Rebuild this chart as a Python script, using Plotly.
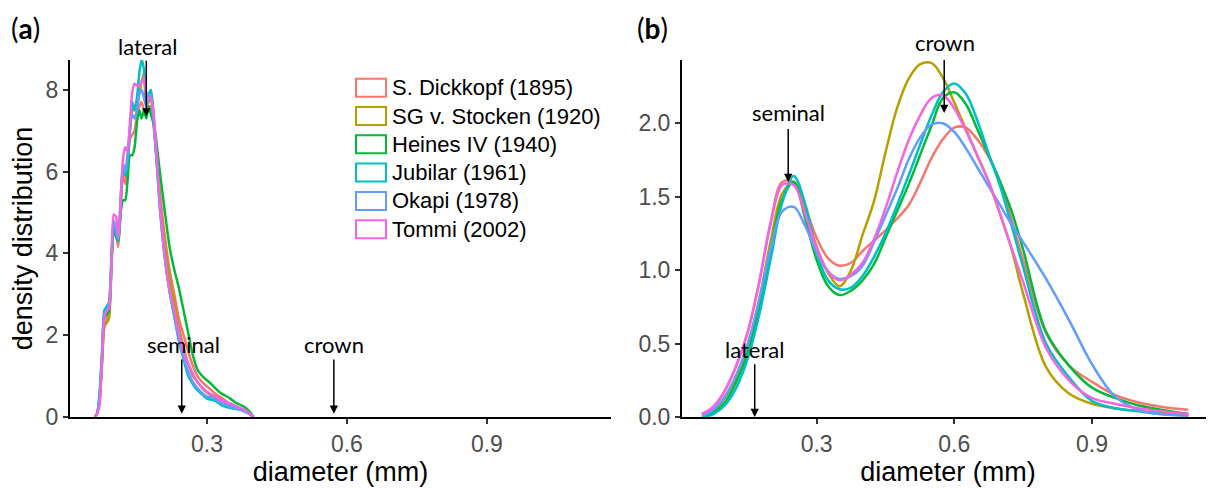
import plotly.graph_objects as go

# page has an 8px body margin, so the figure is drawn at (8, 8)
OFF = 8
W, H = 1214 - OFF, 489 - OFF

names = ["S. Dickkopf (1895)", "SG v. Stocken (1920)", "Heines IV (1940)",
         "Jubilar (1961)", "Okapi (1978)", "Tommi (2002)"]
colors = ["#F8766D", "#B79F00", "#00BA38", "#00BFC4", "#619CFF", "#F564E3"]

# ---------- panel (a): lateral roots ----------
xa = [0.06, 0.065, 0.07, 0.075, 0.08, 0.085, 0.09, 0.095, 0.1, 0.105, 0.11, 0.115,
      0.12, 0.125, 0.13, 0.135, 0.14, 0.145, 0.15, 0.155, 0.16, 0.165, 0.17, 0.175,
      0.18, 0.185, 0.19, 0.195, 0.2, 0.21, 0.22, 0.23, 0.24, 0.25, 0.26, 0.27, 0.28,
      0.29, 0.3, 0.31, 0.32, 0.33, 0.34, 0.35, 0.36, 0.37, 0.38, 0.39, 0.4]

a_dickkopf = [0.0, 0.1, 0.4, 1.3, 2.2, 2.35, 2.5, 3.6, 4.7, 4.5, 4.15, 5.0,
              5.9, 5.7, 6.3, 6.8, 6.9, 7.0, 7.4, 7.6, 7.7, 7.5, 7.4, 7.6,
              7.6, 7.2, 6.6, 6.0, 5.4, 4.4, 3.6, 3.0, 2.4, 2.0, 1.6, 1.25, 1.0,
              0.85, 0.75, 0.65, 0.55, 0.48, 0.4, 0.3, 0.25, 0.2, 0.16, 0.1, 0.0]
a_stocken = [0.0, 0.1, 0.4, 1.3, 2.2, 2.3, 2.4, 3.6, 4.7, 4.5, 4.3, 5.1,
             6.0, 5.9, 6.4, 7.0, 7.5, 7.5, 7.6, 7.9, 8.2, 8.4, 7.6, 7.7,
             7.8, 7.3, 6.6, 5.9, 5.2, 4.2, 3.4, 2.8, 2.2, 1.7, 1.3, 1.0, 0.85,
             0.7, 0.6, 0.52, 0.45, 0.4, 0.32, 0.28, 0.25, 0.2, 0.16, 0.1, 0.0]
a_heines = [0.0, 0.1, 0.5, 1.4, 2.4, 2.5, 2.6, 3.6, 4.6, 4.4, 4.3, 5.0,
            5.3, 5.3, 5.8, 6.4, 6.4, 6.6, 7.2, 7.5, 7.3, 7.5, 7.3, 7.6,
            7.4, 7.2, 6.9, 6.4, 5.9, 5.0, 4.15, 3.6, 3.15, 2.6, 2.05, 1.5, 1.15,
            1.0, 0.9, 0.8, 0.68, 0.58, 0.52, 0.45, 0.36, 0.3, 0.25, 0.15, 0.0]
a_jubilar = [0.0, 0.1, 0.6, 1.6, 2.6, 2.7, 2.8, 3.8, 4.8, 4.5, 4.3, 5.3,
             6.1, 5.9, 6.2, 7.0, 7.7, 7.5, 7.8, 8.4, 8.75, 8.5, 7.8, 7.9,
             8.0, 7.5, 6.6, 5.8, 5.0, 3.85, 3.05, 2.45, 1.85, 1.4, 1.0, 0.8, 0.65,
             0.55, 0.45, 0.42, 0.38, 0.3, 0.25, 0.22, 0.2, 0.18, 0.14, 0.08, 0.0]
a_okapi = [0.0, 0.1, 0.5, 1.5, 2.5, 2.6, 2.7, 3.7, 4.8, 4.6, 4.35, 5.3,
           6.2, 6.0, 6.4, 7.1, 7.4, 7.3, 7.5, 7.9, 8.0, 7.8, 7.6, 7.8,
           7.9, 7.4, 6.6, 5.8, 5.0, 3.9, 3.1, 2.5, 1.9, 1.45, 1.1, 0.85, 0.7,
           0.58, 0.5, 0.48, 0.42, 0.35, 0.3, 0.25, 0.22, 0.18, 0.14, 0.08, 0.0]
a_tommi = [0.0, 0.1, 0.3, 1.4, 2.4, 2.6, 2.65, 3.6, 4.95, 4.9, 4.4, 5.2,
           6.3, 6.6, 6.5, 7.2, 7.95, 8.15, 8.1, 8.1, 8.2, 8.3, 7.9, 7.8,
           7.8, 7.5, 6.8, 5.9, 5.1, 3.9, 3.1, 2.6, 2.05, 1.6, 1.3, 1.05, 0.85,
           0.72, 0.62, 0.55, 0.5, 0.42, 0.37, 0.33, 0.28, 0.22, 0.18, 0.1, 0.0]

# ---------- panel (b): seminal + crown roots ----------
xb = [0.05, 0.075, 0.1, 0.125, 0.15, 0.175, 0.2, 0.225, 0.25, 0.275, 0.3, 0.325,
      0.35, 0.375, 0.4, 0.425, 0.45, 0.475, 0.5, 0.525, 0.55, 0.575, 0.6, 0.625,
      0.65, 0.675, 0.7, 0.725, 0.75, 0.8, 0.85, 0.9, 0.95, 1.0, 1.05, 1.11]

b_dickkopf = [0.02, 0.07, 0.18, 0.35, 0.58, 0.92, 1.33, 1.60, 1.60, 1.43, 1.22, 1.08,
              1.03, 1.05, 1.13, 1.20, 1.27, 1.35, 1.44, 1.59, 1.76, 1.89, 1.97, 1.97,
              1.89, 1.77, 1.60, 1.34, 1.07, 0.57, 0.35, 0.24, 0.15, 0.10, 0.07, 0.05]
b_stocken = [0.01, 0.04, 0.13, 0.27, 0.48, 0.80, 1.20, 1.52, 1.60, 1.42, 1.16, 0.98,
             0.89, 1.00, 1.24, 1.47, 1.80, 2.10, 2.30, 2.40, 2.41, 2.31, 2.14, 1.96,
             1.78, 1.60, 1.38, 1.14, 0.84, 0.34, 0.16, 0.09, 0.06, 0.04, 0.03, 0.02]
b_heines = [0.00, 0.03, 0.10, 0.24, 0.44, 0.74, 1.14, 1.48, 1.60, 1.35, 1.07, 0.89,
            0.83, 0.86, 0.93, 1.04, 1.22, 1.40, 1.58, 1.78, 1.98, 2.17, 2.21, 2.13,
            1.96, 1.78, 1.60, 1.40, 1.14, 0.58, 0.35, 0.20, 0.13, 0.08, 0.05, 0.02]
b_jubilar = [0.00, 0.02, 0.08, 0.20, 0.40, 0.70, 1.08, 1.46, 1.64, 1.45, 1.12, 0.93,
             0.87, 0.88, 0.96, 1.09, 1.25, 1.44, 1.64, 1.85, 2.05, 2.21, 2.27, 2.20,
             2.02, 1.79, 1.57, 1.30, 1.02, 0.50, 0.27, 0.11, 0.06, 0.04, 0.02, 0.01]
b_okapi = [0.01, 0.05, 0.14, 0.29, 0.50, 0.80, 1.15, 1.40, 1.43, 1.30, 1.12, 0.99,
           0.94, 0.96, 1.03, 1.19, 1.37, 1.55, 1.75, 1.90, 1.99, 2.00, 1.94, 1.83,
           1.70, 1.57, 1.44, 1.31, 1.19, 0.94, 0.66, 0.36, 0.14, 0.05, 0.02, 0.01]
b_tommi = [0.02, 0.07, 0.18, 0.35, 0.58, 0.92, 1.32, 1.58, 1.58, 1.38, 1.15, 0.99,
           0.93, 0.97, 1.05, 1.21, 1.42, 1.66, 1.88, 2.05, 2.17, 2.19, 2.10, 1.95,
           1.78, 1.60, 1.38, 1.15, 0.92, 0.47, 0.25, 0.13, 0.09, 0.06, 0.04, 0.02]

series_a = [a_dickkopf, a_stocken, a_heines, a_jubilar, a_okapi, a_tommi]
series_b = [b_dickkopf, b_stocken, b_heines, b_jubilar, b_okapi, b_tommi]

x_ticks = [0.3, 0.6, 0.9]
ya_ticks = [0, 2, 4, 6, 8]
yb_ticks = [0.0, 0.5, 1.0, 1.5, 2.0]

fig = go.Figure()
for name, col, ya_vals in zip(names, colors, series_a):
    fig.add_trace(go.Scatter(x=xa, y=ya_vals, mode="lines", name=name,
                             line=dict(color=col, width=2.5, shape="spline", smoothing=0.6),
                             xaxis="x", yaxis="y", showlegend=False))
for name, col, yb_vals in zip(names, colors, series_b):
    fig.add_trace(go.Scatter(x=xb, y=yb_vals, mode="lines", name=name,
                             line=dict(color=col, width=2.5, shape="spline", smoothing=1.0),
                             xaxis="x2", yaxis="y2", showlegend=False))

FONT = "Liberation Sans, Arial, sans-serif"
LABF = "Lato, Open Sans, sans-serif"
tickfont = dict(family=FONT, size=23, color="#4D4D4D")
titlefont = dict(family=FONT, size=27, color="black")


def px_x(p):
    return (p - OFF) / W


def px_y(p):
    return 1 - (p - OFF) / H


ydom = [px_y(417), px_y(60)]
common_x = dict(range=[0.0065, 1.166], tickvals=x_ticks, ticktext=["0.3", "0.6", "0.9"],
                showline=True, linecolor="black", linewidth=2, ticks="outside",
                ticklen=5, tickwidth=1.5, tickcolor="#333333", tickfont=tickfont,
                showgrid=False, zeroline=False, automargin=False,
                title=dict(text="diameter (mm)", font=titlefont, standoff=4))
common_y = dict(showline=True, linecolor="black", linewidth=2, ticks="outside",
                ticklen=5, tickwidth=1.5, tickcolor="#333333", tickfont=tickfont,
                showgrid=False, zeroline=False, automargin=False)

fig.update_layout(
    width=W, height=H, margin=dict(l=0, r=0, t=0, b=0),
    plot_bgcolor="white", paper_bgcolor="white", showlegend=False,
    xaxis=dict(domain=[px_x(70), px_x(611)], anchor="y", **common_x),
    xaxis2=dict(domain=[px_x(682), 1.0], anchor="y2", **common_x),
    yaxis=dict(domain=ydom, anchor="x", range=[0, 8.73], tickvals=ya_ticks,
               title=dict(text="density distribution", font=titlefont, standoff=6),
               **common_y),
    yaxis2=dict(domain=ydom, anchor="x2", range=[0, 2.43], tickvals=yb_ticks,
                tickformat=".1f", **common_y),
)


def arrow(xref, yref, x, y0, y1):
    fig.add_annotation(x=x, y=y1, ax=x, ay=y0, xref=xref, yref=yref, axref=xref,
                       ayref=yref, text="", showarrow=True, arrowhead=2,
                       arrowsize=1.1, arrowwidth=1.5, arrowcolor="black")


def label(xref, yref, x, y, txt):
    fig.add_annotation(x=x, y=y, xref=xref, yref=yref, text=txt, showarrow=False,
                       xanchor="center", yanchor="middle",
                       font=dict(family=LABF, size=22, color="black"))


def label_px(x, y, txt):
    fig.add_annotation(x=px_x(x), y=px_y(y), xref="paper", yref="paper", text=txt,
                       showarrow=False, xanchor="center", yanchor="middle",
                       font=dict(family=LABF, size=22, color="black"))


arrow("x", "y", 0.17, 8.75, 7.35)
label_px(147, 46, "lateral")
arrow("x", "y", 0.246, 1.44, 0.08)
label("x", "y", 0.249, 1.78, "seminal")
arrow("x", "y", 0.572, 1.44, 0.08)
label("x", "y", 0.572, 1.78, "crown")

arrow("x2", "y2", 0.238, 1.97, 1.60)
label("x2", "y2", 0.239, 2.07, "seminal")
arrow("x2", "y2", 0.578, 2.44, 2.07)
label_px(945, 42, "crown")
arrow("x2", "y2", 0.165, 0.37, 0.0)
label("x2", "y2", 0.165, 0.46, "lateral")

# panel tags
fig.add_annotation(x=px_x(9), y=px_y(28), xref="paper", yref="paper", xanchor="left",
                   yanchor="middle", text="(<b>a</b>)", showarrow=False,
                   font=dict(family=LABF, size=28, color="black"))
fig.add_annotation(x=px_x(635), y=px_y(28), xref="paper", yref="paper", xanchor="left",
                   yanchor="middle", text="(<b>b</b>)", showarrow=False,
                   font=dict(family=LABF, size=28, color="black"))

# manual legend (outlined boxes like ggplot density keys)
row0, step = 87.7, 28.3
for i, (name, col) in enumerate(zip(names, colors)):
    yc = row0 + i * step
    fig.add_shape(type="rect", xref="paper", yref="paper",
                  x0=px_x(356), x1=px_x(386), y0=px_y(yc + 9), y1=px_y(yc - 9),
                  line=dict(color=col, width=2), fillcolor="white")
    fig.add_annotation(x=px_x(390), y=px_y(yc), xref="paper", yref="paper",
                       xanchor="left", yanchor="middle", text=name, showarrow=False,
                       font=dict(family=FONT, size=22, color="black"))

fig.write_html("out.html")
